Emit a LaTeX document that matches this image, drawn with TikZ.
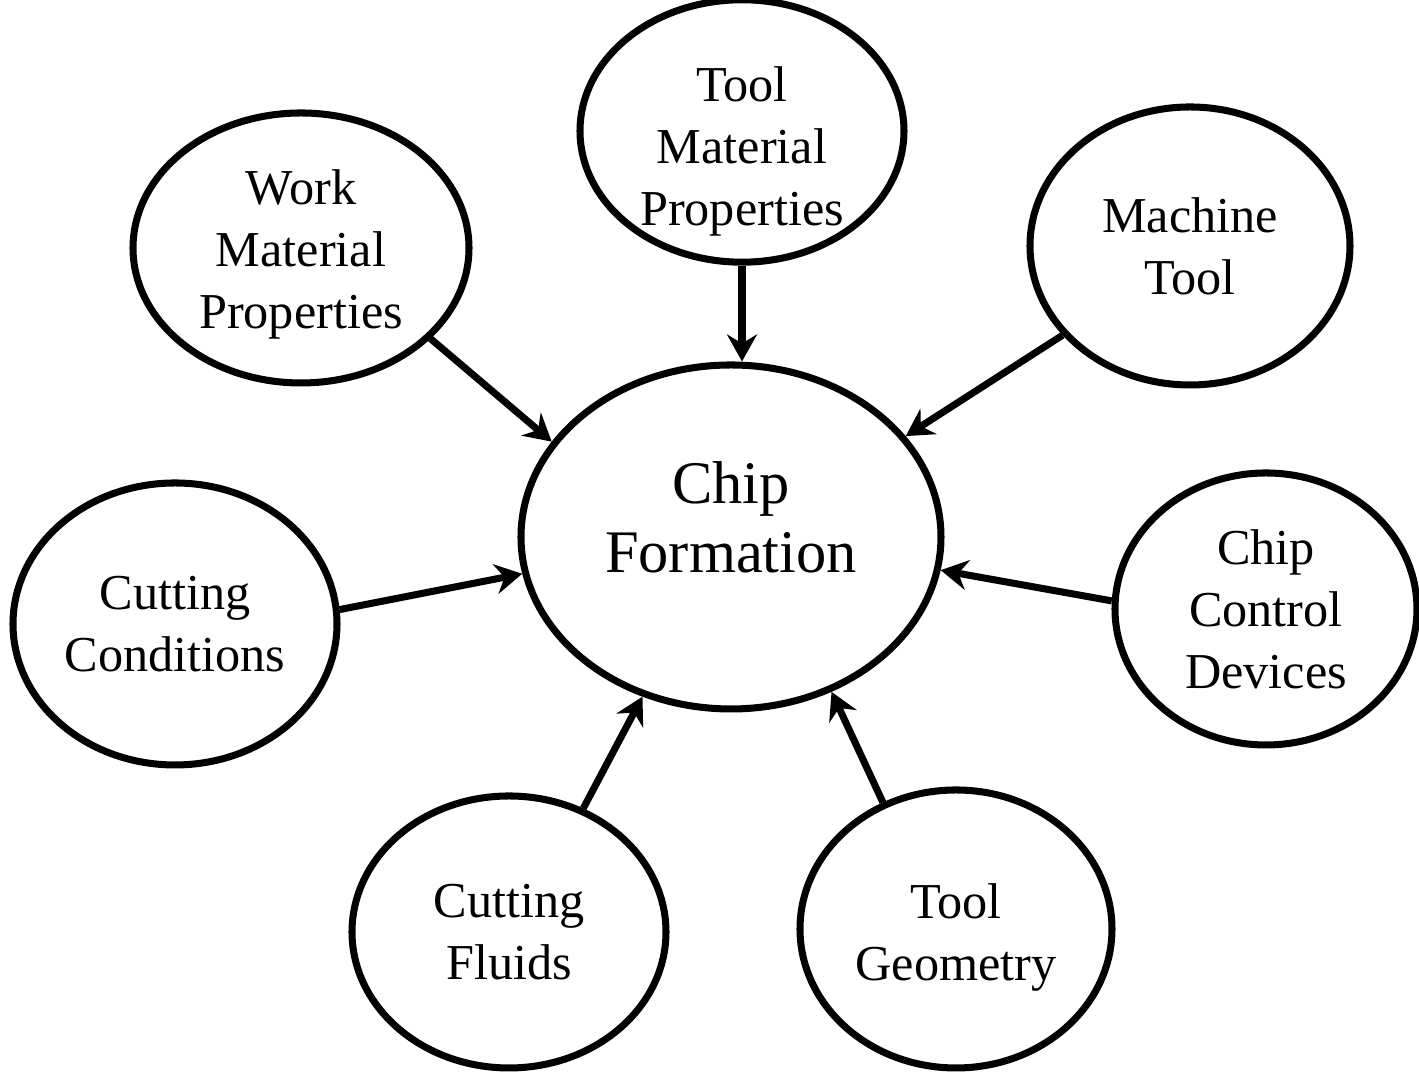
\documentclass[tikz,border=0pt]{standalone}
\usepackage{fontspec}
\setmainfont{Liberation Serif}
\usetikzlibrary{shapes,arrows.meta,positioning,calc}
\newcommand{\liftlines}[2]{\raisebox{#1}[\height][\depth]{\begin{tabular}{@{}c@{}}#2\end{tabular}}}
\tikzset{
  post/.style    = {-{Stealth[length=0.27cm,width=0.3cm,inset=0.09cm]}, line width=2pt},
  factor/.style  = {draw, ellipse, line width=2pt, inner sep=0pt, align=center,
                    font=\fontsize{14.3pt}{17.6pt}\selectfont},
  core/.style    = {draw, ellipse, line width=2pt, inner sep=0pt, align=center,
                    minimum width=4.2cm, minimum height=3.44cm,
                    font=\fontsize{17.2pt}{19.8pt}\selectfont}
}
\begin{document}
\begin{tikzpicture}
      \useasboundingbox (0,0) rectangle (14.19,10.72);
      \node[core] (chip) at (7.31,5.35) {\liftlines{0.13cm}{Chip\\Formation}};
      \node[factor, minimum width=3.24cm, minimum height=2.54cm] (toolmat) at (7.42,9.41) {\liftlines{-0.2cm}{Tool\\Material\\Properties}};
      \node[factor, minimum width=3.36cm, minimum height=2.70cm] (workmat) at (3.01,8.24) {\liftlines{-0.06cm}{Work\\Material\\Properties}};
      \node[factor, minimum width=3.20cm, minimum height=2.78cm] (machine) at (11.90,8.26) {Machine\\Tool};
      \node[factor, minimum width=3.24cm, minimum height=2.82cm] (conditions) at (1.75,4.48) {Cutting\\Conditions};
      \node[factor, minimum width=3.02cm, minimum height=2.72cm] (control) at (12.66,4.63) {Chip\\Control\\Devices};
      \node[factor, minimum width=3.14cm, minimum height=2.72cm] (fluids) at (5.09,1.40) {Cutting\\Fluids};
      \node[factor, minimum width=3.12cm, minimum height=2.78cm] (geometry) at (9.56,1.43) {\liftlines{-0.08cm}{Tool\\Geometry}};
      % arrows into the centre
      \draw[post] (toolmat.south) -- (toolmat.south |- chip.north);
      \draw[post] (workmat.-35) -- (chip.152);
      \draw[post] (machine.215) -- (chip.30);
      \draw[post] (conditions.5) -- (chip.190);
      \draw[post] (control.177) -- (chip.-9);
      \draw[post] (fluids.59) -- (chip.241);
      \draw[post] (geometry.120) -- (chip.-57);
\end{tikzpicture}
\end{document}
